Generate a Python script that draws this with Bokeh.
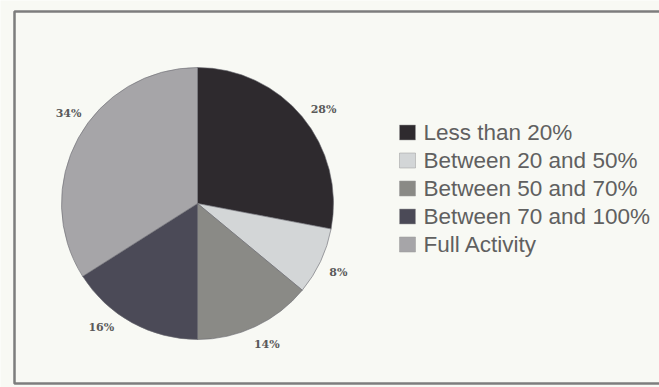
import math
from bokeh.plotting import figure
from bokeh.models import Range1d, ColumnDataSource
from bokeh.core.properties import value
from bokeh.embed import file_html
from bokeh.resources import INLINE

# ---- data ----
categories = ["Less than 20%", "Between 20 and 50%", "Between 50 and 70%",
              "Between 70 and 100%", "Full Activity"]
shares = [28, 8, 14, 16, 34]
labels = ["28%", "8%", "14%", "16%", "34%"]
colors = ["#2e2a2e", "#d3d6d7", "#8a8a86", "#4b4a57", "#a6a5a8"]

# label angle nudges (degrees), styling only
label_shift = [-3, -1, 1, -9, -6]

W, H = 659, 387
p = figure(width=W, height=H, output_backend="svg", toolbar_location=None,
           x_range=Range1d(0, W), y_range=Range1d(0, H), min_border=0)
p.axis.visible = False
p.grid.visible = False
p.outline_line_color = None
p.background_fill_color = "#f8f9f4"
p.border_fill_color = "#f8f9f4"

def px(x):
    return x

def py(y):
    return H - y

# frame (open at right)
p.line([px(W), px(14), px(14), px(W)], [py(11), py(11), py(383), py(383)],
       line_color="#7d7d7d", line_width=2.5)

# pie
cx, cy, r = px(197), py(203), 136
total = sum(shares)
starts, ends, mids = [], [], []
cum = 0
for s in shares:
    a0 = math.pi / 2 - cum / total * 2 * math.pi
    cum += s
    a1 = math.pi / 2 - cum / total * 2 * math.pi
    starts.append(a1)
    ends.append(a0)
    mids.append((a0 + a1) / 2)

src = ColumnDataSource(dict(start=starts, end=ends, color=colors))
p.wedge(x=cx, y=cy, radius=r, start_angle="start", end_angle="end",
        fill_color="color", line_color="#6a6a70", line_width=0.6, source=src)

lr = 157
la = [m + math.radians(d) for m, d in zip(mids, label_shift)]
lx = [cx + lr * math.cos(a) for a in la]
ly = [cy + lr * math.sin(a) for a in la]
p.text(x=lx, y=ly, text=labels, text_align="center", text_baseline="middle",
       text_font=value("DejaVu Serif"), text_font_size="11px",
       text_font_style="bold", text_color="#5a5a5a")

# legend
n = len(categories)
row0, step = py(132), 28
sq_y = [row0 - i * step for i in range(n)]
p.rect(x=[px(407)] * n, y=sq_y, width=16, height=15, fill_color=colors,
       line_color="#9a9a9a", line_width=0.5)
p.text(x=[px(423)] * n, y=sq_y, text=categories, text_baseline="middle",
       text_font=value("Liberation Sans"), text_font_size="22.5px",
       text_color="#606060")

open("out.html", "w").write(file_html(p, INLINE))
